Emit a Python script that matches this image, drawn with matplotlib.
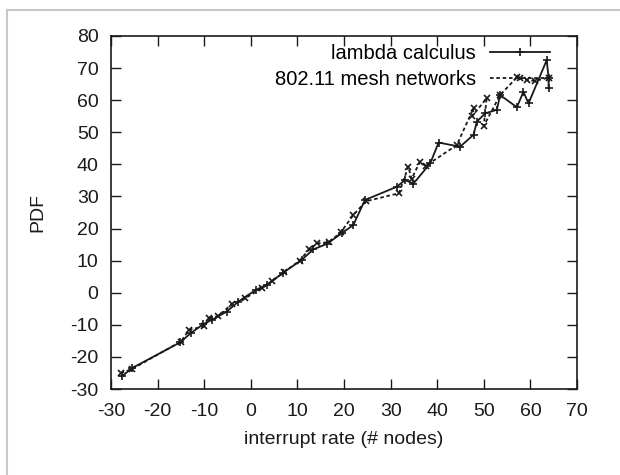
import matplotlib
matplotlib.use("Agg")
import matplotlib.pyplot as plt
from matplotlib.lines import Line2D

plt.rcParams['font.family'] = ['Liberation Sans', 'DejaVu Sans']
plt.rcParams['axes.unicode_minus'] = False

# ---- data ----
lambda_x = [-27.7, -25.5, -15.2, -12.8, -10.2, -8.4, -5.2, -2.7, 1.2, 3.4,
            7.0, 10.9, 13.4, 16.3, 19.5, 22.0, 24.5, 31.3, 33.1, 34.9,
            38.5, 40.3, 44.9, 47.8, 48.5, 50.3, 52.8, 53.5, 57.1, 58.5,
            59.6, 63.5, 63.9, 63.9]
lambda_y = [-26.1, -23.5, -15.5, -12.5, -9.8, -8.5, -5.9, -2.8, 1.0, 2.4,
            6.3, 10.2, 13.5, 15.2, 18.5, 21.1, 28.9, 33.0, 35.1, 34.0,
            40.3, 46.8, 45.5, 49.2, 53.3, 55.9, 57.0, 61.6, 57.8, 62.6,
            59.0, 72.5, 67.0, 63.7]

mesh_x = [-27.9, -25.5, -15.0, -13.2, -10.0, -9.0, -7.0, -4.0, -1.2, 2.4,
          4.5, 7.2, 10.5, 12.5, 14.3, 16.8, 19.3, 22.0, 24.7, 31.8,
          33.8, 34.5, 36.3, 37.5, 44.2, 47.8, 47.5, 50.6, 50.0, 53.5,
          57.1, 59.2, 61.0, 63.9]
mesh_y = [-25.0, -23.8, -15.2, -11.5, -10.5, -8.0, -7.2, -3.5, -1.7, 1.4,
          3.5, 6.5, 10.0, 13.5, 15.4, 15.8, 18.8, 24.2, 28.5, 31.0,
          39.3, 35.5, 40.8, 39.5, 46.0, 57.5, 55.0, 60.6, 52.0, 61.6,
          67.1, 66.3, 66.0, 67.0]

x_ticks = [-30, -20, -10, 0, 10, 20, 30, 40, 50, 60, 70]
y_ticks = [-30, -20, -10, 0, 10, 20, 30, 40, 50, 60, 70, 80]
series_names = ["lambda calculus", "802.11 mesh networks"]
x_label = "interrupt rate (# nodes)"
y_label = "PDF"

# ---- figure ----
fig = plt.figure(figsize=(6.2, 4.75), dpi=100)
W, H = 620, 475
ax = fig.add_axes([111 / W, (H - 389) / H, (577 - 111) / W, (389 - 36) / H])

# light gray frame (top and left only, as in the cropped screenshot)
fig.add_artist(Line2D([7 / W, 7 / W], [0, 1 - 10 / H], color='#c8c8c8', lw=1.5,
                      transform=fig.transFigure))
fig.add_artist(Line2D([7 / W, 1], [1 - 10 / H, 1 - 10 / H], color='#c8c8c8', lw=1.5,
                      transform=fig.transFigure))

ink = '#1a1a1a'
ax.plot(lambda_x, lambda_y, color=ink, lw=1.3, ls='-', marker='+',
        markersize=6, markeredgewidth=1.2, label=series_names[0])
ax.plot(mesh_x, mesh_y, color=ink, lw=1.3, ls=(0, (2, 1.5)), marker='x',
        markersize=4.5, markeredgewidth=1.2, label=series_names[1])

ax.set_xlim(-30, 70)
ax.set_ylim(-30, 80)
ax.set_xticks(x_ticks)
ax.set_yticks(y_ticks)
ax.tick_params(direction='in', length=7, width=1, top=True, right=True,
               labelsize=14, colors=ink)
ax.tick_params(axis='x', pad=10)
ax.tick_params(axis='y', pad=9)
for s in ax.spines.values():
    s.set_linewidth(1.2)
    s.set_color(ink)

ax.set_xlabel(x_label, fontsize=14, labelpad=8, color=ink)
ax.set_ylabel(y_label, fontsize=14, labelpad=17, color=ink)

leg = ax.legend(loc='upper right', bbox_to_anchor=(0.96, 1.0), frameon=False,
                markerfirst=False, handlelength=3.0, numpoints=1,
                fontsize=14.5, borderaxespad=0.0, labelspacing=0.35,
                handletextpad=0.7)

fig.savefig("out.png", dpi=100)
